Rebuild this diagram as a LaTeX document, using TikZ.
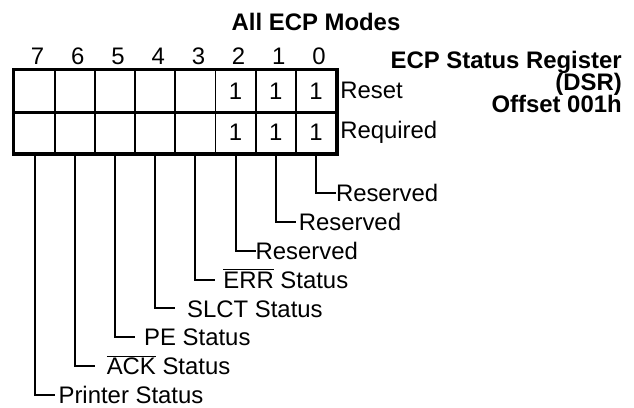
\documentclass[tikz,border=0pt]{standalone}
\usepackage{fontspec}
\setmainfont{Liberation Sans}
\usetikzlibrary{positioning}

\newcommand{\negsig}[1]{$\overline{\mbox{#1}}$}
\newcommand{\regfont}{\fontsize{17}{15.6}\selectfont\bfseries\lineskiplimit=-20pt\relax}

\begin{document}
\begin{tikzpicture}[
        font=\fontsize{17}{20.4}\selectfont,
        cell/.style={draw, line width=1.4pt, minimum width=1.005cm, minimum height=1.04cm, inner sep=0pt, text height=12.2pt, text depth=0pt},
        txt/.style={inner sep=0pt, text height=12.2pt, text depth=0pt},
        lbl/.style={txt, anchor=west},
        ttl/.style={inner sep=0pt, align=right, font=\regfont},
        tick/.style={line width=1.4pt}
      ]
        \useasboundingbox (0,0) rectangle (15.85,-10.2);

        % register cells, bit 7 on the left
        \foreach \b in {3,...,7} {
            \node[cell] (rs\b) at (7.9-1.005*\b,-2.27) {};
            \node[cell] (rq\b) at (7.9-1.005*\b,-3.31) {};
        }
        \foreach \b in {0,1,2} {
            \node[cell] (rs\b) at (7.9-1.005*\b,-2.27) {1};
            \node[cell] (rq\b) at (7.9-1.005*\b,-3.31) {1};
        }
        \foreach \b in {0,...,7}
            \node[txt] (n\b) at (7.975-1.005*\b,-1.4) {\b};
        \draw[line width=2.1pt] (rs7.north west) rectangle (rq0.south east);
        \draw[line width=2.1pt] (rs7.south west) -- (rs0.south east);

        \node[txt] (modes) at (7.9,-0.54) {\bfseries All ECP Modes};
        \node[ttl, anchor=north east] (reg) at (15.55,-1.28) {ECP Status Register\\(DSR)\\Offset 001h};
        \node[lbl] (reset) at (8.5,-2.24) {Reset};
        \node[lbl] (req) at (8.5,-3.24) {Required};

        % bit fields
        \foreach \b/\name/\gap in {0/Reserved/0, 1/Reserved/0.075, 2/Reserved/0,
                3/\negsig{ERR} Status/0.2, 4/SLCT Status/0.3, 5/PE Status/0.23,
                6/\negsig{ACK} Status/0.3, 7/Printer Status/0.1} {
            \node[lbl, outer sep=\gap cm] (f\b) at (8.4-1.005*\b,-4.825-0.7215*\b) {\name};
            \draw[tick] (rq\b.south) |- (f\b.west);
        }
    \end{tikzpicture}
\end{document}
